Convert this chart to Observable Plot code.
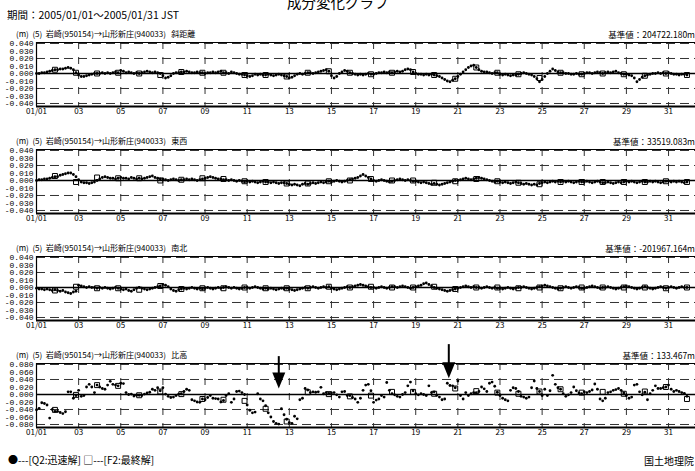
<!DOCTYPE html>
<html><head><meta charset="utf-8">
<script src="https://cdn.jsdelivr.net/npm/d3@7"></script>
<script src="https://cdn.jsdelivr.net/npm/@observablehq/plot@0.6"></script>
<style>
body{margin:0;background:#fff;}
#wrap{position:relative;width:695px;height:471px;overflow:hidden;font-family:"Noto Sans CJK JP",sans-serif;color:#000;background:#fff;}
.t{position:absolute;white-space:pre;line-height:1;}
.p{position:absolute;left:0;}
</style></head><body><div id="wrap"></div>
<script>
// ---- text ----
const chartTitle = "成分変化グラフ";
const periodText = "期間：2005/01/01～2005/01/31 JST";
const routeText = "(m)  (5)  岩崎(950154)→山形新庄(940033)   ";
const componentNames = ["斜距離", "東西", "南北", "比高"];
const baseValues = ["基準値：204722.180m", "基準値：33519.083m", "基準値：-201967.164m", "基準値：133.467m"];
const legendText = "●---[Q2:迅速解] □---[F2:最終解]";
const creditText = "国土地理院";

// ---- axes ----
const xTicks = [1, 3, 5, 7, 9, 11, 13, 15, 17, 19, 21, 23, 25, 27, 29, 31];
const xTickLabels = ["01/01", "03", "05", "07", "09", "11", "13", "15", "17", "19", "21", "23", "25", "27", "29", "31"];
const yTicksSmall = [40, 30, 20, 10, 0, -10, -20, -30, -40];   // mm
const yTicksBig = [80, 60, 40, 20, 0, -20, -40, -60, -80];     // mm

// ---- Q2 rapid solutions (mm), 8 per day (3-hourly), Jan 1 .. Jan 31 ----
const q2Slope = [
  0, 0, 1, 1, 2, 3, 4, 5,
  5, 6, 6, 7, 8, 7, 5, 1,
  -2, -4, -4, -3, -2, -1, 0, 0,
  0, 1, 0, 1, 0, 1, 2, 1,
  4, 3, 1, 2, 1, 0, 1, 0,
  1, 2, 3, 2, 1, 2, 1, 0,
  -3, -6, -5, -3, 0, 1, 1, 2,
  2, 3, 2, 1, 1, 2, 1, 1,
  0, 1, 1, 2, 1, 2, 3, 1,
  1, 0, 2, 1, 0, -1, -1, -2,
  -3, -4, -3, -1, -2, -1, -2, -2,
  -1, -2, -3, -2, -1, -2, -3, -4,
  -6, -5, -3, -1, 0, -1, 0, 1,
  1, 0, 1, 2, 3, 4, 5, 3,
  -3, -6, -4, 0, 2, 4, 3, 1,
  0, -1, -2, -1, -2, -1, 0, -1,
  -1, 0, 1, 1, 2, 1, 2, 1,
  2, 3, 2, 3, 5, 6, 5, 2,
  0, -1, -1, -2, -1, -2, -1, -2,
  -3, -4, -6, -8, -10, -11, -9, -7,
  -4, -1, 2, 5, 8, 10, 11, 8,
  5, 3, 2, 2, 1, 0, 1, 1,
  -1, -2, -1, -2, -3, -2, -2, -1,
  0, 1, 0, -1, -2, -4, -7, -11,
  -8, -4, 0, 3, 6, 4, 2, 1,
  1, 0, 0, -1, -1, 0, -1, -1,
  0, 1, 1, 0, 1, 2, 1, 0,
  1, 2, 1, 2, 3, 1, 0, -1,
  -1, -2, -3, -6, -11, -8, -5, -3,
  -2, -1, 0, 0, 1, 0, 1, 0,
  1, 0, -1, -1, -2, -1, -1, -2
];
const q2EW = [
  0, 1, 1, 2, 2, 3, 4, 5,
  5, 7, 8, 9, 10, 10, 8, 5,
  1, -2, -3, -3, -4, -3, -2, 0,
  2, 4, 5, 4, 3, 3, 2, 3,
  4, 3, 3, 2, 4, 3, 2, 3,
  2, 3, 4, 5, 6, 4, 3, 2,
  2, 1, 0, 1, 2, 1, 0, 1,
  1, 2, 1, 2, 1, 0, 1, 2,
  3, 4, 5, 4, 3, 2, 2, 1,
  1, 0, 1, 0, -1, 0, -1, -2,
  -1, -2, -1, -2, -3, -2, -1, -2,
  -2, -3, -2, -3, -4, -3, -3, -4,
  -5, -6, -5, -6, -7, -5, -4, -5,
  -4, -3, -4, -3, -2, -3, -2, -1,
  -2, -1, 0, -1, -2, -1, 0, 1,
  2, 3, 4, 6, 8, 6, 4, 2,
  0, -1, 0, 1, 0, -1, -2, -1,
  0, 1, 2, 1, 0, 1, 0, -1,
  -1, -2, -3, -2, -3, -4, -5, -4,
  -5, -6, -5, -4, -3, -2, -1, 0,
  0, 1, 2, 3, 2, 1, 2, 3,
  4, 3, 2, 1, 0, -1, -2, -1,
  -2, -3, -2, -3, -4, -3, -2, -3,
  -4, -5, -4, -5, -6, -5, -6, -4,
  -3, -2, -3, -2, -1, -2, -1, -2,
  -1, -2, -1, -2, -3, -2, -1, -2,
  -2, -1, -2, -3, -2, -1, -2, -3,
  -3, -2, -3, -4, -3, -2, -3, -2,
  -1, -2, -1, -2, -3, -2, -1, -2,
  -2, -1, -2, -1, -2, -3, -2, -1,
  -1, -2, -1, -2, -1, -2, -3, -2
];
const q2NS = [
  -1, -2, -2, -3, -2, -3, -4, -3,
  -4, -5, -4, -6, -7, -8, -6, -5,
  3, 2, 1, 0, 1, 0, 0, -1,
  0, -1, 0, -1, -2, -1, 0, -1,
  -2, -3, -2, -4, -5, -3, -1, 0,
  -1, -2, -3, -2, -1, 0, 1, 2,
  4, 3, 1, -2, -4, -5, -3, -2,
  -1, -2, -1, 0, -1, -2, -1, -2,
  -1, 0, -1, -2, -1, 0, -1, 0,
  1, 0, -1, 0, -1, -2, -1, 0,
  0, -1, 0, 1, 0, -1, -2, -1,
  -2, -1, -2, -3, -2, -1, -2, -1,
  -2, -3, -4, -3, -2, -1, 0, -1,
  0, 1, 0, -1, 0, 1, 0, 1,
  -1, -2, -3, -2, -1, 0, 1, 0,
  1, 2, 3, 4, 3, 2, 1, 0,
  0, -1, 0, 1, 0, -1, 0, 1,
  1, 0, 1, 2, 1, 0, -1, 0,
  1, 2, 3, 5, 6, 4, 2, 0,
  -1, -2, -3, -4, -5, -4, -3, -2,
  -1, 0, 1, 2, 1, 0, 1, 0,
  0, -1, 0, 1, 0, -1, 0, -1,
  -1, -2, -1, 0, -1, -2, -1, 0,
  0, 1, 0, -1, -2, -1, 0, 1,
  2, 3, 2, 1, 0, -1, -2, -1,
  0, 1, 0, -1, 0, 1, 0, -1,
  -1, 0, 1, 2, 1, 0, -1, 0,
  0, 1, 0, -1, -2, -1, 0, 1,
  2, 1, 0, -1, -2, -1, 0, 1,
  0, -1, -2, -1, 0, 1, 0, -1,
  0, 1, 0, -1, 0, 1, 0, 0
];
const q2Height = [
  -41, -37, -22, -24, -28, -63, -40, -45,
  -45, -48, -51, -46, 7, 7, -10, -3,
  11, -5, -3, 20, 27, 20, 5, 25,
  20, 16, 14, 25, 35, 27, 25, 23,
  30, 29, 5, 0, 1, -4, -2, -2,
  -3, 1, 4, 6, 14, 11, 18, 10,
  18, 1, -5, -8, -7, -3, 1, 2,
  8, 14, 11, -14, -17, -20, -21, -12,
  -14, -8, -3, -10, -11, -12, -20, -16,
  -3, 2, -21, -12, 8, 9, 5, 0,
  -28, -42, -49, -47, 2, -12, -17, -30,
  -49, -60, -72, -77, -79, -38, -54, -66,
  -75, -77, -58, -65, -14, -10, 16, 12,
  5, 7, 6, 7, 19, 2, 5, 3,
  4, 5, -1, -7, 7, 8, -3, -3,
  -8, -12, -21, -10, 11, 25, 27, 10,
  -21, -15, -12, -3, -7, 32, 11, 2,
  -1, -5, -7, 0, 5, 23, 33, 10,
  2, -1, 2, 0, -3, 23, 5, 7,
  -2, -7, -14, -12, 30, 24, 23, 18,
  36, -3, -12, 5, -3, 2, 5, 5,
  8, 20, 15, 8, 30, 33, 22, 6,
  -3, -10, -14, -17, 11, 18, 16, 8,
  -5, -7, -10, -7, 18, 36, 16, 8,
  -3, 14, -3, 10, 51, 27, 18, 14,
  2, -5, -1, 5, 20, 10, 4, 2,
  7, 5, 8, 12, 28, 14, -12, -17,
  -10, 5, 7, 11, 13, 16, 11, 4,
  -3, -10, -7, 25, 27, 7, -1, 6,
  -14, 2, 11, 23, 16, 16, 18, 20,
  25, 14, 8, 11, 8, 5, 3, -5
];

// ---- F2 final solutions (mm), one per day (21:00 JST) ----
const f2Slope = [5, 1, 0, 1, 0, -2, 2, 1, 1, -2, -2, -4, 1, 3, 1, -1, 1, 2, -2, -7, 8, 1, -1, -6, 1, -1, 0, -1, -3, 0, -2];
const f2EW = [6, -2, 4, 3, 3, 0, 1, 3, 2, -1, -2, -4, -4, -1, 0, 2, 0, 0, -3, -1, 2, -1, -3, -5, -2, -2, -2, -2, -2, -1, -2];
const f2NS = [-4, 1, -1, -1, -3, 2, -2, -1, -1, 0, -1, -1, -1, 1, 0, 1, 0, 0, 1, -2, 0, 0, -1, 0, -1, 0, 0, 0, 0, -1, 0];
const f2Height = [-41, -1, 25, 23, -2, 8, 1, -12, -14, -17, -38, -72, 6, 1, -5, -3, 7, 7, 2, 16, 9, 5, 2, 8, 14, 5, 7, 2, 8, 20, -12];

// ---- annotation arrows (height panel), day and mm ----
const arrowDays = [12.5, 20.57];
const arrowTopMM = [101, 133];
const arrowTipMM = [16, 43];

const q2All = [q2Slope, q2EW, q2NS, q2Height];
const f2All = [f2Slope, f2EW, f2NS, f2Height];

const wrap = document.getElementById("wrap");
function addText(txt, css) {
  const d = document.createElement("div");
  d.className = "t";
  d.textContent = txt;
  Object.assign(d.style, css);
  wrap.appendChild(d);
}
addText(chartTitle, {left: "287px", top: "-5px", fontSize: "14.5px"});
addText(periodText, {left: "7px", top: "10px", fontSize: "10.5px"});

const headSymbol = {
  draw(ctx) {
    ctx.moveTo(-6.5, -16); ctx.lineTo(6.5, -16); ctx.lineTo(0, 0); ctx.closePath();
  }
};

const xDomain = [1, 32.28];
const PANEL_STEP = 107;

for (let i = 0; i < 4; i++) {
  const big = i === 3;
  const s = big ? 2 : 1;
  const yDom = [-44 * s, 41.33 * s];
  const grid = big ? [80, 40, -40, -80] : [40, 20, -20, -40];
  const yTicks = big ? yTicksBig : yTicksSmall;
  const q = q2All[i].map((v, k) => ({t: 1 + k / 8, v}));
  const f = f2All[i].map((v, k) => ({t: k + 1 + 0.875, v}));
  const marginTop = big ? 30 : 12;
  const frameTop = 42 + PANEL_STEP * i;

  addText(routeText + componentNames[i], {left: "16px", top: (30 + PANEL_STEP * i) + "px", fontSize: "8px"});
  addText(baseValues[i], {right: "0px", top: (30 + PANEL_STEP * i) + "px", fontSize: "8.5px"});

  const marks = [
    Plot.ruleX(xTicks.slice(1), {stroke: "#333", strokeWidth: 1, strokeDasharray: "7,8"}),
    Plot.ruleY(grid, {stroke: "#333", strokeWidth: 1, strokeDasharray: "9,5"}),
    Plot.ruleY([0], {stroke: "#000", strokeWidth: 1.6}),
    Plot.ruleY([yDom[1]], {stroke: "#000", strokeWidth: 1}),
    Plot.ruleY([yDom[0]], {stroke: "#000", strokeWidth: 2}),
    Plot.ruleX([1], {stroke: "#000", strokeWidth: 1.2}),
    Plot.dot(q, {x: "t", y: "v", r: 1.4, fill: "#000", stroke: null}),
    Plot.dot(f, {x: "t", y: "v", symbol: "square", r: 2.8, fill: "none", stroke: "#000", strokeWidth: 1}),
    Plot.axisY({ticks: yTicks, tickFormat: d => (d / 1000).toFixed(3), tickSize: 0, tickPadding: 3, label: null, fontSize: 8, fontFamily: "'Liberation Mono', monospace"}),
    Plot.axisX({ticks: xTicks, tickFormat: d => xTickLabels[xTicks.indexOf(d)], tickSize: 0, tickPadding: 2, label: null, fontSize: 8})
  ];
  if (big) {
    const arr = arrowDays.map((d, j) => ({x: d, y1: arrowTopMM[j], y2: arrowTipMM[j] + 20, tip: arrowTipMM[j]}));
    marks.push(Plot.ruleX(arr, {x: "x", y1: "y1", y2: "y2", stroke: "#000", strokeWidth: 2}));
    marks.push(Plot.dot(arr, {x: "x", y: "tip", symbol: headSymbol, r: 5, fill: "#000", stroke: null}));
  }

  const chart = Plot.plot({
    width: 695,
    height: marginTop + 64 + 14,
    marginLeft: 36,
    marginRight: 0,
    marginTop,
    marginBottom: 14,
    x: {domain: xDomain, label: null},
    y: {domain: yDom, label: null},
    style: {background: "transparent", fontFamily: "'Noto Sans CJK JP', sans-serif", fontSize: "8px", color: "#000", overflow: "visible"},
    marks
  });
  chart.classList.add("p");
  chart.style.top = (frameTop - marginTop) + "px";
  wrap.appendChild(chart);
}

addText(legendText, {left: "8px", top: "455px", fontSize: "10px"});
addText(creditText, {right: "1px", top: "456px", fontSize: "10px"});
</script>
</body></html>
